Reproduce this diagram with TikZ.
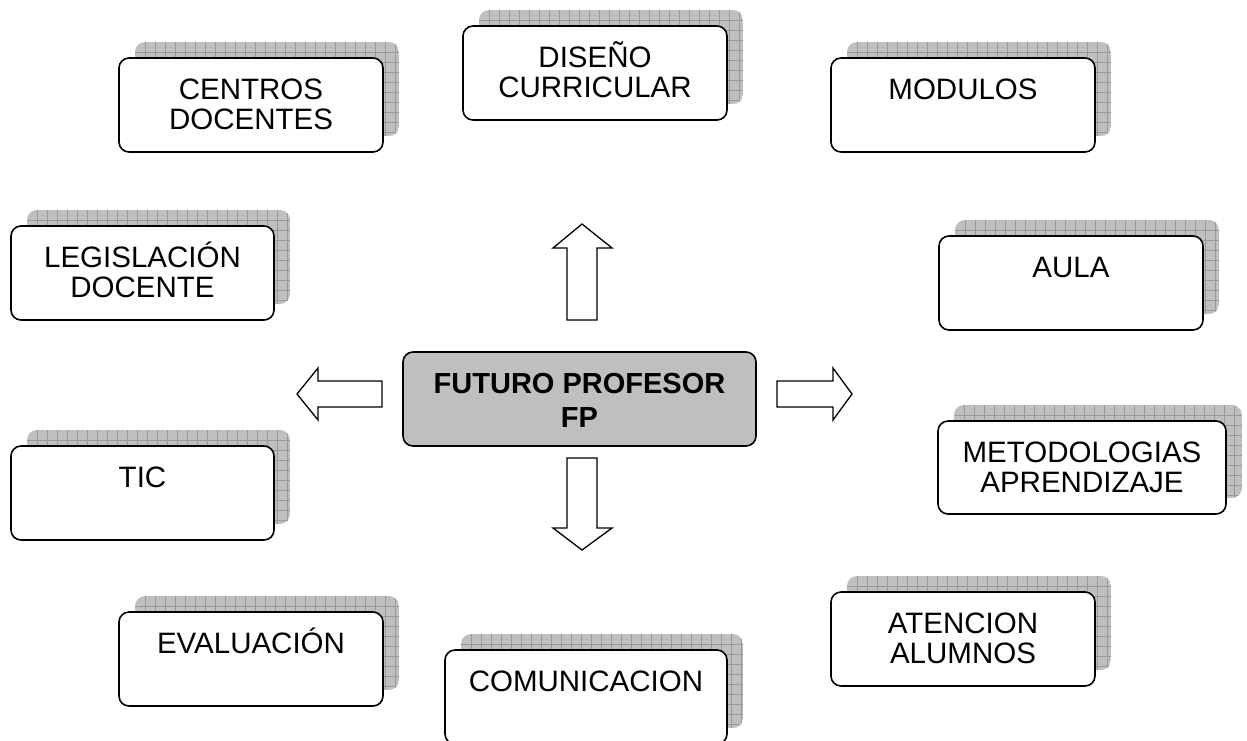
\documentclass[tikz,border=0pt]{standalone}
\usepackage{fontspec}
\setmainfont{Liberation Sans}
\tikzset{
  boxline/.style={draw=black, line width=1.6pt, rounded corners=10pt, fill=white, inner sep=0pt, outer sep=0pt},
  shadowfill/.style={fill=black!25},
  gridline/.style={draw=black!40, line width=0.5pt},
  labeltext/.style={anchor=base, inner sep=0pt, font=\fontsize{29.5}{30}\selectfont},
  centerbox/.style={draw=black, line width=1.6pt, rounded corners=10pt, fill=black!25, inner sep=0pt},
  centertext/.style={anchor=base, inner sep=0pt, font=\fontsize{29}{34}\selectfont\bfseries},
  blockarrow/.style={draw=black, line width=1.3pt, fill=white, line join=miter}
}
\newcommand{\mybox}[6]{%
  \begin{scope}
    \path[clip, rounded corners=10pt] ({#2+16},{#3-16}) rectangle ({#4+16},{#5-16});
    \fill[shadowfill] ({#2+16},{#3-16}) rectangle ({#4+16},{#5-16});
    \foreach \i in {1,...,30} {\draw[gridline] ({#2+16+10*\i},{#3-16}) -- ({#2+16+10*\i},{#5-16});}
    \foreach \j in {1,...,10} {\draw[gridline] ({#2+16},{#3-16+10*\j}) -- ({#4+16},{#3-16+10*\j});}
  \end{scope}
  \node[boxline, minimum width={#4-#2}, minimum height={#5-#3}] (#1) at ({(#2+#4)/2},{(#3+#5)/2}) {};
  \node[labeltext] (#1-t) at ({(#2+#4)/2},{#3+41}) {\begin{tabular}[t]{@{}c@{}}#6\end{tabular}};
}
\begin{document}
\begin{tikzpicture}[x=1pt, y=-1pt]
\useasboundingbox (0,0) rectangle (1247,740);

\mybox{centros}{119}{58}{383}{152}{CENTROS\\DOCENTES}
\mybox{diseno}{463}{26}{727}{120}{DISEÑO\\CURRICULAR}
\mybox{modulos}{831}{58}{1095}{152}{MODULOS}
\mybox{legis}{11}{226}{274}{320}{LEGISLACIÓN\\DOCENTE}
\mybox{aula}{939}{236}{1203}{330}{AULA}
\mybox{tic}{11}{446}{274}{540}{TIC}
\mybox{metod}{938}{421}{1226}{514}{METODOLOGIAS\\APRENDIZAJE}
\mybox{atencion}{831}{592}{1095}{686}{ATENCION\\ALUMNOS}
\mybox{evalua}{119}{612}{383}{706}{EVALUACIÓN}
\mybox{comun}{445}{650}{727}{744}{COMUNICACION}

\node[centerbox, minimum width=353, minimum height=94] (futuro) at (579.5,399) {};
\node[centertext] (futuro-t) at (579.5,393) {\begin{tabular}[t]{@{}c@{}}FUTURO PROFESOR\\FP\end{tabular}};

% block arrows
\draw[blockarrow] (567,320) -- (567,248) -- (553,248) -- (582,224) -- (612,248) -- (597,248) -- (597,320) -- cycle;
\draw[blockarrow] (567,458) -- (597,458) -- (597,528) -- (612,528) -- (582,550) -- (553,528) -- (567,528) -- cycle;
\draw[blockarrow] (382,381) -- (318,381) -- (318,368) -- (297,394) -- (318,420) -- (318,407) -- (382,407) -- cycle;
\draw[blockarrow] (777,381) -- (833,381) -- (833,368) -- (852,394) -- (833,420) -- (833,407) -- (777,407) -- cycle;
\end{tikzpicture}
\end{document}
